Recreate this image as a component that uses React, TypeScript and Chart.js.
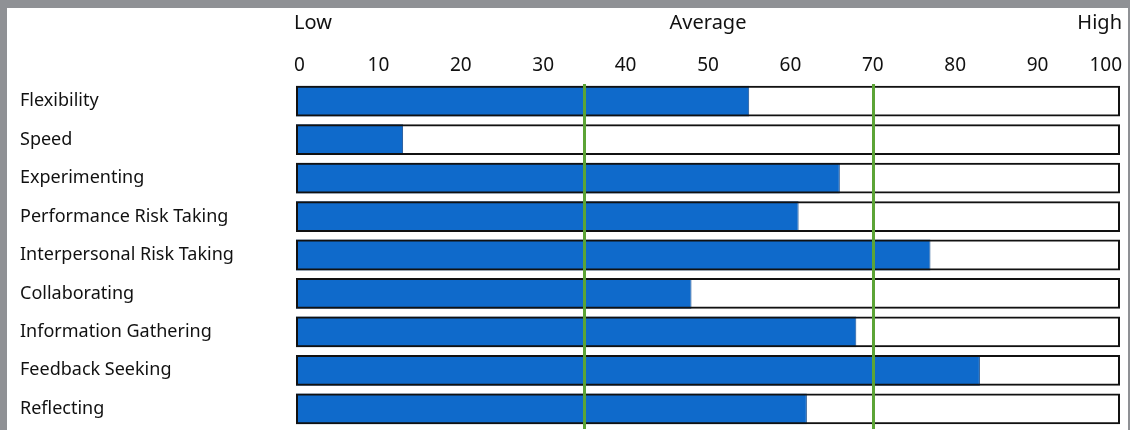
import React, { useEffect, useRef } from "react";
import { Chart, registerables } from "chart.js";

Chart.register(...registerables);

const categories = [
  "Flexibility",
  "Speed",
  "Experimenting",
  "Performance Risk Taking",
  "Interpersonal Risk Taking",
  "Collaborating",
  "Information Gathering",
  "Feedback Seeking",
  "Reflecting",
];
const scores = [55, 13, 66, 61, 77, 48, 68, 83, 62];
const fullScale = [100, 100, 100, 100, 100, 100, 100, 100, 100];
const tickValues = [0, 10, 20, 30, 40, 50, 60, 70, 80, 90, 100];
const thresholds = [35, 70];
const bandLabels = [
  { text: "Low", value: 0 },
  { text: "Average", value: 50 },
  { text: "High", value: 100 },
];

const FONT = "'Noto Sans', sans-serif";
const BLUE = "#0f6acb";
const GREEN = "#5ca436";

const overlayPlugin = {
  id: "overlay",
  afterDatasetsDraw(chart: any) {
    const { ctx, chartArea, scales } = chart;
    const x = scales.x;
    ctx.save();
    // threshold lines
    ctx.strokeStyle = GREEN;
    ctx.lineWidth = 3;
    thresholds.forEach((t) => {
      const px = Math.round(x.getPixelForValue(t)) + 0.5;
      ctx.beginPath();
      ctx.moveTo(px, chartArea.top + 2);
      ctx.lineTo(px, chartArea.bottom + 1);
      ctx.stroke();
    });
    // tick labels
    ctx.fillStyle = "#111";
    ctx.font = `19px ${FONT}`;
    ctx.textBaseline = "middle";
    ctx.textAlign = "left";
    tickValues.forEach((v, i) => {
      const px = x.getPixelForValue(v);
      const label = String(v);
      const w = ctx.measureText(label).width;
      let lx = px - w / 2;
      if (i === 0) lx = px - 2;
      if (lx + w > chart.width - 6) lx = chart.width - 6 - w;
      ctx.fillText(label, lx, 58);
    });
    // band labels
    ctx.font = `20px ${FONT}`;
    bandLabels.forEach((b, i) => {
      const px = x.getPixelForValue(b.value);
      const w = ctx.measureText(b.text).width;
      let lx = px - w / 2;
      if (i === 0) lx = px - 2;
      if (i === bandLabels.length - 1) lx = chart.width - 6 - w;
      ctx.fillText(b.text, lx, 15);
    });
    ctx.restore();
  },
};

export default function App() {
  const ref = useRef<HTMLCanvasElement>(null);
  useEffect(() => {
    if (!ref.current) return;
    const chart = new Chart(ref.current, {
      type: "bar",
      data: {
        labels: categories,
        datasets: [
          {
            label: "Box",
            data: fullScale,
            backgroundColor: "rgba(0,0,0,0)",
            borderColor: "#111",
            borderWidth: 2,
            borderSkipped: false,
            grouped: false,
            order: 0,
            barPercentage: 0.8,
            categoryPercentage: 1,
          } as any,
          {
            label: "Score",
            data: scores,
            backgroundColor: BLUE,
            borderColor: "#1a4f8f",
            borderWidth: 1,
            borderSkipped: false,
            grouped: false,
            order: 1,
            barPercentage: 0.8,
            categoryPercentage: 1,
          } as any,
        ],
      },
      options: {
        indexAxis: "y",
        animation: false,
        responsive: false,
        devicePixelRatio: 1,
        layout: { padding: { left: 13, top: 74, right: 8, bottom: 2 } },
        plugins: { legend: { display: false }, tooltip: { enabled: false } },
        scales: {
          x: { min: 0, max: 100, display: false },
          y: {
            grid: { display: false },
            border: { display: false },
            ticks: {
              crossAlign: "far",
              color: "#111",
              font: { family: FONT, size: 18 },
            },
            afterFit: (s: any) => {
              s.width = 276;
              s.paddingTop = 0;
              s.paddingBottom = 0;
            },
          },
        },
      },
      plugins: [overlayPlugin],
    });
    return () => chart.destroy();
  }, []);
  return (
    <div style={{ position: "fixed", inset: 0, background: "#8f9195" }}>
      <div
        style={{
          position: "absolute",
          left: 7,
          top: 8,
          width: 1121,
          height: 422,
          background: "#fff",
        }}
      >
        <canvas ref={ref} width={1121} height={422} style={{ display: "block" }} />
      </div>
    </div>
  );
}
